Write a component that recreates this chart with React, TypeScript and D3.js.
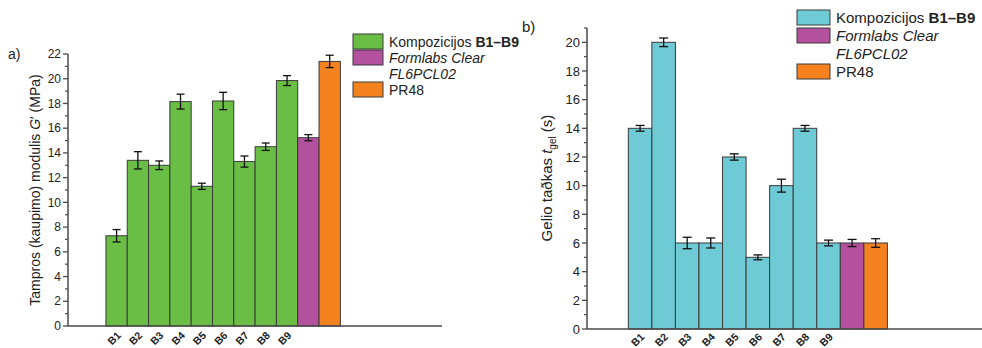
import React from "react";
import * as d3 from "d3";

// ---------- DATA ----------
const compCategories = ["B1", "B2", "B3", "B4", "B5", "B6", "B7", "B8", "B9"];
const legendLabels = ["Kompozicijos B1–B9", "Formlabs Clear FL6PCL02", "PR48"];

// Panel a) storage modulus G' (MPa)
const modulusComp = [7.3, 13.4, 13.0, 18.15, 11.3, 18.2, 13.3, 14.5, 19.85];
const modulusCompErr = [0.5, 0.7, 0.35, 0.6, 0.25, 0.7, 0.45, 0.3, 0.4];
const modulusFormlabs = [15.23];
const modulusFormlabsErr = [0.25];
const modulusPR48 = [21.4];
const modulusPR48Err = [0.5];
const modulusTicks = [0, 2, 4, 6, 8, 10, 12, 14, 16, 18, 20, 22];

// Panel b) gel point t_gel (s)
const gelComp = [14, 20, 6, 6, 12, 5, 10, 14, 6];
const gelCompErr = [0.2, 0.3, 0.4, 0.35, 0.22, 0.17, 0.45, 0.2, 0.2];
const gelFormlabs = [6];
const gelFormlabsErr = [0.25];
const gelPR48 = [6];
const gelPR48Err = [0.3];
const gelTicks = [0, 2, 4, 6, 8, 10, 12, 14, 16, 18, 20];

const FONT = "'Liberation Sans', Arial, Helvetica, sans-serif";
const AXIS = "#4a4a4a";
const STROKE = "#3a3a3a";
const PURPLE = "#b4519e";
const ORANGE = "#f4821f";

type Bar = { label: string; value: number; err: number; color: string };

function buildBars(comp: number[], compErr: number[], fl: number[], flErr: number[], pr: number[], prErr: number[], compColor: string): Bar[] {
  const bars: Bar[] = compCategories.map((c, i) => ({ label: c, value: comp[i], err: compErr[i], color: compColor }));
  bars.push({ label: "", value: fl[0], err: flErr[0], color: PURPLE });
  bars.push({ label: "", value: pr[0], err: prErr[0], color: ORANGE });
  return bars;
}

type PanelProps = {
  bars: Bar[];
  xLeft: number; xRight: number; slots: number; offset: number;
  yBottom: number; yTopPx: number; yMax: number; axisMax: number;
  majorTicks: number[]; minorStep: number;
  tickFont: number; catFont: number; catDx: number; catDy: number;
  capW: number;
  title: React.ReactNode; titleX: number; titleY: number; titleFont: number;
  letter: string; letterX: number; letterY: number;
  legendX: number; legendY: number; legendRow: number; legendFont: number; swW: number; swH: number;
  compColor: string;
};

function Panel(p: PanelProps) {
  const x = d3.scaleLinear().domain([0, p.slots]).range([p.xLeft, p.xRight]);
  const y = d3.scaleLinear().domain([0, p.yMax]).range([p.yBottom, p.yTopPx]);
  const minor = d3.range(0, p.axisMax + 0.001, p.minorStep).filter((v) => !p.majorTicks.includes(v));
  const bw = x(1) - x(0);
  const rows = [0, 1, 3];
  return (
    <g fontFamily={FONT}>
      {/* bars */}
      {p.bars.map((b, i) => (
        <rect key={"b" + i} x={x(p.offset + i)} y={y(b.value)} width={bw} height={y(0) - y(b.value)}
          fill={b.color} stroke={STROKE} strokeWidth={1} />
      ))}
      {/* error bars */}
      {p.bars.map((b, i) => {
        const cx = x(p.offset + i + 0.5);
        return (
          <g key={"e" + i} stroke="#111" strokeWidth={1.3}>
            <line x1={cx} x2={cx} y1={y(b.value + b.err)} y2={y(b.value - b.err)} />
            <line x1={cx - p.capW / 2} x2={cx + p.capW / 2} y1={y(b.value + b.err)} y2={y(b.value + b.err)} />
            <line x1={cx - p.capW / 2} x2={cx + p.capW / 2} y1={y(b.value - b.err)} y2={y(b.value - b.err)} />
          </g>
        );
      })}
      {/* axes */}
      <line x1={p.xLeft} x2={p.xRight} y1={y(0)} y2={y(0)} stroke={AXIS} strokeWidth={1.5} />
      <line x1={p.xLeft} x2={p.xLeft} y1={y(0)} y2={y(p.axisMax)} stroke={AXIS} strokeWidth={1.5} />
      {p.majorTicks.map((t) => (
        <g key={"t" + t}>
          <line x1={p.xLeft - 5} x2={p.xLeft} y1={y(t)} y2={y(t)} stroke={AXIS} strokeWidth={1.3} />
          <text x={p.xLeft - 7} y={y(t)} dy="0.35em" textAnchor="end" fontSize={p.tickFont} fill="#222">{t}</text>
        </g>
      ))}
      {minor.map((t) => (
        <line key={"m" + t} x1={p.xLeft - 3} x2={p.xLeft} y1={y(t)} y2={y(t)} stroke={AXIS} strokeWidth={1.2} />
      ))}
      {/* category labels */}
      {p.bars.map((b, i) => b.label ? (
        <text key={"c" + i} transform={`translate(${x(p.offset + i + 0.5) + p.catDx},${y(0) + p.catDy}) rotate(-45)`}
          textAnchor="end" fontSize={p.catFont} fontWeight="bold" fill="#222">{b.label}</text>
      ) : null)}
      {/* y title */}
      <text transform={`translate(${p.titleX},${p.titleY}) rotate(-90)`} textAnchor="middle" fontSize={p.titleFont} fill="#222">{p.title}</text>
      <text x={p.letterX} y={p.letterY} fontSize={p.titleFont} fill="#222">{p.letter}</text>
      {/* legend */}
      {[p.compColor, PURPLE, ORANGE].map((c, k) => (
        <rect key={"l" + k} x={p.legendX} y={p.legendY + rows[k] * p.legendRow - p.swH + 2} width={p.swW} height={p.swH}
          fill={c} stroke={STROKE} strokeWidth={1} />
      ))}
      <g fontSize={p.legendFont} fill="#222">
        <text x={p.legendX + p.swW + 6} y={p.legendY}>
          {legendLabels[0].split(" ")[0] + " "}<tspan fontWeight="bold">{legendLabels[0].split(" ")[1]}</tspan>
        </text>
        <text x={p.legendX + p.swW + 6} y={p.legendY + p.legendRow} fontStyle="italic">{legendLabels[1].split(" ").slice(0, 2).join(" ")}</text>
        <text x={p.legendX + p.swW + 6} y={p.legendY + 2 * p.legendRow} fontStyle="italic">{legendLabels[1].split(" ")[2]}</text>
        <text x={p.legendX + p.swW + 6} y={p.legendY + 3 * p.legendRow}>{legendLabels[2]}</text>
      </g>
    </g>
  );
}

export default function App() {
  const green = "#6abd45";
  const cyan = "#6ecbd6";
  const barsA = buildBars(modulusComp, modulusCompErr, modulusFormlabs, modulusFormlabsErr, modulusPR48, modulusPR48Err, green);
  const barsB = buildBars(gelComp, gelCompErr, gelFormlabs, gelFormlabsErr, gelPR48, gelPR48Err, cyan);
  return (
    <svg width={982} height={348} style={{ position: "absolute", left: 0, top: 0, background: "#fff" }}>
      <rect width={982} height={348} fill="#fff" />
      <Panel
        bars={barsA} xLeft={68} xRight={442} slots={17.55} offset={1.78}
        yBottom={326} yTopPx={54} yMax={22} axisMax={22}
        majorTicks={modulusTicks} minorStep={1}
        tickFont={12} catFont={10.5} catDx={5} catDy={10} capW={8}
        title={<>Tampros (kaupimo) modulis <tspan fontStyle="italic">G</tspan>′ (MPa)</>}
        titleX={40} titleY={190} titleFont={14}
        letter="a)" letterX={8} letterY={59}
        legendX={353} legendY={47} legendRow={16} legendFont={14} swW={30} swH={15}
        compColor={green}
      />
      <Panel
        bars={barsB} xLeft={587} xRight={982} slots={16.77} offset={1.754}
        yBottom={329} yTopPx={42.3} yMax={20} axisMax={21}
        majorTicks={gelTicks} minorStep={1}
        tickFont={13} catFont={10.5} catDx={5} catDy={8.5} capW={9}
        title={<>Gelio taðkas <tspan fontStyle="italic">t</tspan><tspan fontSize={10} dy={4}>gel</tspan><tspan dy={-4}> (s)</tspan></>}
        titleX={552} titleY={178} titleFont={15}
        letter="b)" letterX={522} letterY={32}
        legendX={797} legendY={23} legendRow={18} legendFont={15} swW={33} swH={15}
        compColor={cyan}
      />
    </svg>
  );
}
